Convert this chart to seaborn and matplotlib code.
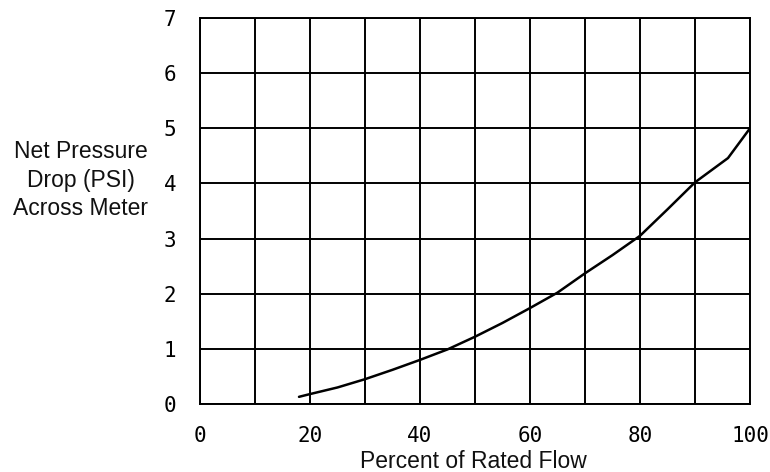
import matplotlib
matplotlib.use("Agg")
import matplotlib.pyplot as plt
import seaborn as sns
import pandas as pd

percent_flow = [18, 20, 25, 30, 35, 40, 45, 50, 55, 60, 65, 70, 75, 80, 85, 90, 96, 100]
pressure_drop = [0.13, 0.18, 0.30, 0.45, 0.62, 0.80, 0.99, 1.22, 1.47, 1.74, 2.02, 2.37, 2.70, 3.05, 3.53, 4.02, 4.46, 5.0]
x_ticks = [0, 20, 40, 60, 80, 100]
y_ticks = [0, 1, 2, 3, 4, 5, 6, 7]

sns.set_theme(style="white")
plt.rcParams['font.family'] = ['Liberation Sans', 'DejaVu Sans']

df = pd.DataFrame({"flow": percent_flow, "drop": pressure_drop})

fig = plt.figure(figsize=(7.7, 4.72), dpi=100)
ax = fig.add_axes([200/770, 68/472, 550/770, 386/472])

sns.lineplot(data=df, x="flow", y="drop", ax=ax, color="black", linewidth=1.8)

ax.set_xlim(0, 100)
ax.set_ylim(0, 7)
ax.set_xticks(x_ticks)
ax.set_xticks(range(10, 100, 20), minor=True)
ax.set_yticks(y_ticks)
ax.grid(True, which="major", color="black", linewidth=1.4)
ax.grid(True, which="minor", axis="x", color="black", linewidth=1.4)
ax.set_axisbelow(True)
ax.tick_params(which="both", length=0)
ax.tick_params(axis="x", pad=16)
ax.tick_params(axis="y", pad=17)
ax.set_xticklabels([str(v) for v in x_ticks], fontfamily="DejaVu Sans Mono", fontsize=15, color="black")
ax.set_yticklabels([str(v) for v in y_ticks], fontfamily="DejaVu Sans Mono", fontsize=15, color="black")

for s in ax.spines.values():
    s.set_color("black")
    s.set_linewidth(1.4)

ax.set_xlabel("")
ax.set_ylabel("")
fig.text(473/770, 3.5/472, "Percent of Rated Flow", ha="center", va="baseline",
         fontsize=16.5, color="#111111")
fig.text(80.5/770, 1 - 180/472, "Net Pressure\nDrop (PSI)\nAcross Meter", ha="center", va="center",
         fontsize=16.5, color="#111111", linespacing=1.3)

fig.savefig("out.png", dpi=100, facecolor="white")
